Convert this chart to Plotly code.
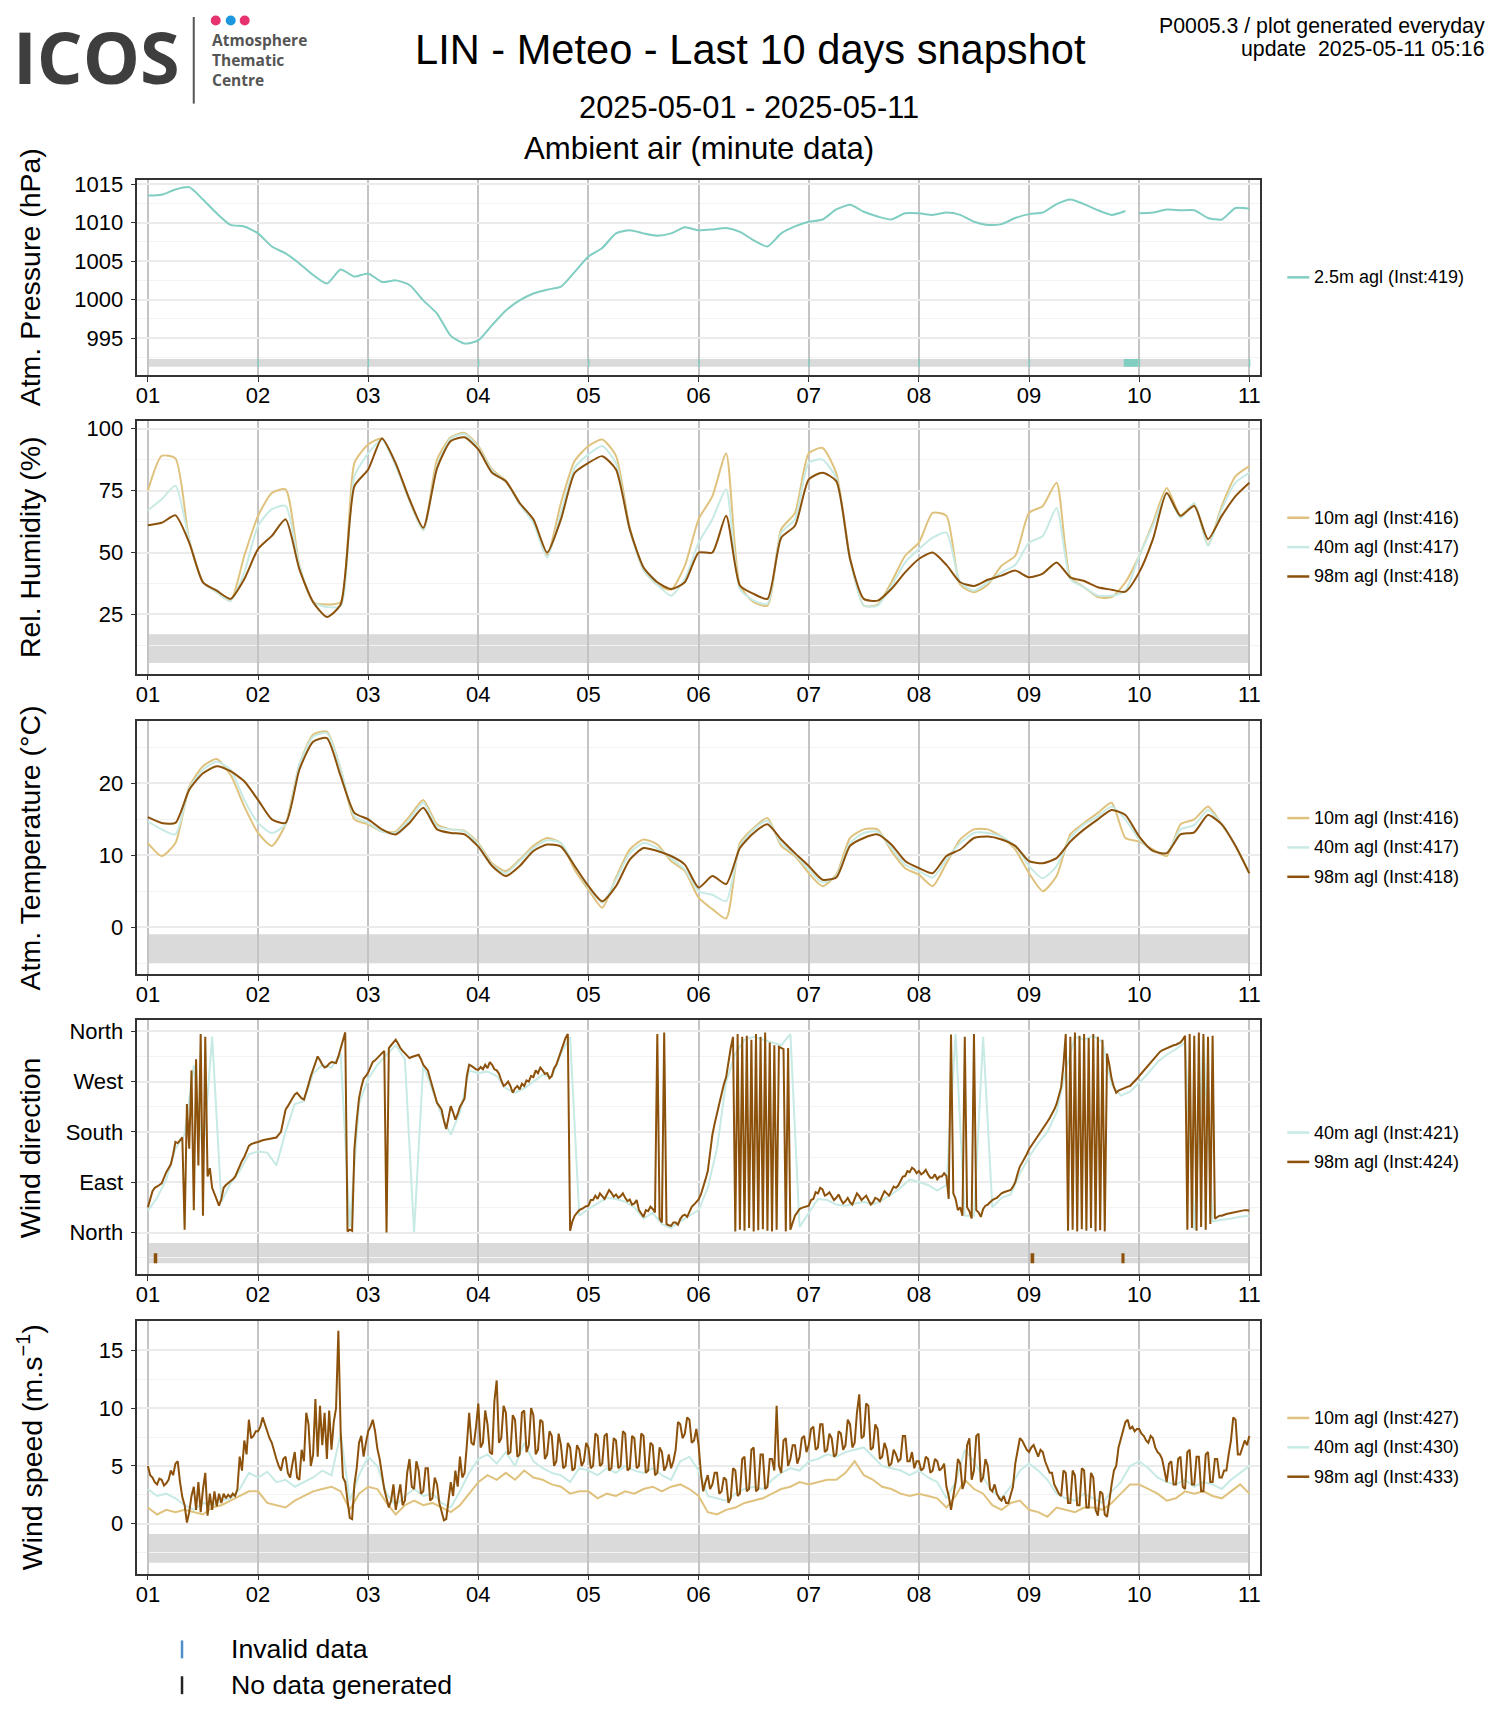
import pandas as pd
import plotly.graph_objects as go

W, H = 1500, 1725
FONT = "Liberation Sans, Arial, Helvetica, sans-serif"
START = pd.Timestamp("2025-05-01 00:00")

# ---------------- data ----------------
day_labels = ["01", "02", "03", "04", "05", "06", "07", "08", "09", "10", "11"]

# Atmospheric pressure 2.5m, every 3 h (hPa)
pressure_25m = [
    1013.5, 1013.6, 1014.3, 1014.6, 1013.0, 1011.2, 1009.7, 1009.5,
    1008.6, 1006.9, 1006.0, 1004.7, 1003.2, 1002.1, 1003.9, 1003.0,
    1003.4, 1002.3, 1002.5, 1001.9, 999.9, 998.2, 995.3, 994.3,
    994.7, 996.7, 998.6, 999.9, 1000.8, 1001.3, 1001.7, 1003.6,
    1005.6, 1006.7, 1008.6, 1009.0, 1008.6, 1008.3, 1008.6, 1009.4,
    1009.0, 1009.1, 1009.3, 1008.8, 1007.7, 1006.9, 1008.6, 1009.5,
    1010.1, 1010.4, 1011.7, 1012.3, 1011.4, 1010.8, 1010.4, 1011.2,
    1011.2, 1011.0, 1011.3, 1011.0, 1010.1, 1009.7, 1009.8, 1010.6,
    1011.1, 1011.3, 1012.4, 1013.0, 1012.4, 1011.6, 1011.0, 1011.5,
    1011.2, 1011.3, 1011.7, 1011.6, 1011.6, 1010.6, 1010.4, 1011.9,
    1011.8,
]
pressure_gap_day = 8.93

# Relative humidity, every 3 h (%)
rh_10m = [
    75, 89, 88, 55, 38, 34, 30.5, 48.7,
    64.8, 74, 75.5, 45, 30, 29, 30, 86.2,
    93.6, 96, 85.5, 71, 59, 87.5, 96.5, 98.3,
    93, 83.5, 79, 70, 62.5, 49, 70, 87,
    93, 95.6, 89, 60, 43, 37, 35, 44.7,
    63.4, 72.8, 90, 36.7, 30, 28.6, 59.4, 66,
    90, 92.2, 82, 48, 28.6, 29, 38, 48.7,
    54, 66, 64.8, 37, 34, 37, 44.7, 48.7,
    66, 68.8, 78.2, 40, 36, 32, 32, 38,
    48.7, 62, 76, 65, 69.5, 53, 68.8, 80.8,
    84.9,
]
rh_40m = [
    67, 71.5, 77, 55, 38, 34, 30.5, 42,
    60.8, 67.5, 68.8, 44.7, 30, 28, 28.5, 80.8,
    90, 95.5, 85, 71, 59, 85, 96, 97.8,
    92.2, 83, 78.5, 69.5, 62, 48, 66, 84.2,
    89.6, 93, 86, 59, 43, 37, 32.6, 39.3,
    54, 63.4, 75.5, 35.3, 30.6, 29.3, 58, 63.4,
    86.2, 87.5, 80, 47, 28.6, 28.6, 36.5, 46,
    51.4, 56, 58, 38, 34.6, 38, 42, 45,
    54, 56.7, 68, 39.3, 36, 32.6, 32.6, 34.6,
    48.7, 60.8, 74, 64, 70, 52.7, 67.5, 78.2,
    82.2,
]
rh_98m = [
    61, 62, 65, 54, 38, 34.6, 31.3, 39.3,
    51.4, 56.7, 63.4, 43.3, 30, 24, 29, 76.8,
    83.5, 96, 86, 71.5, 60, 84, 95, 96.5,
    91.6, 82.2, 78.8, 70, 63.4, 50, 63.4, 82.2,
    86.2, 88.9, 83.5, 59.4, 44, 38, 35.3, 38,
    50, 50, 64.8, 36.7, 33.3, 31.3, 56, 60.8,
    79.5, 82.2, 78.8, 47.4, 31.3, 30.6, 35.3, 42,
    47.4, 50, 45, 38, 36.5, 39, 40.7, 42.7,
    40, 41.5, 46, 40, 38.5, 36, 35, 34.2,
    42, 55.4, 74, 64.8, 68.8, 55.4, 64.8, 72.8,
    78.2,
]

# Air temperature, every 3 h (degC)
temp_10m = [
    11.7, 9.9, 11.7, 19.5, 22.4, 23.4, 21.2, 16.8,
    13.1, 11.3, 14.3, 22.6, 26.8, 27.2, 22.0, 15.0,
    14.3, 13.3, 13.3, 15.4, 17.7, 14.3, 13.6, 13.4,
    11.7, 8.9, 7.8, 9.4, 11.3, 12.4, 11.7, 8.0,
    5.2, 2.7, 6.9, 10.8, 12.2, 11.5, 9.2, 7.8,
    4.1, 2.5, 1.2, 11.7, 13.8, 15.2, 11.3, 9.9,
    7.5, 5.7, 7.3, 12.4, 13.6, 13.6, 10.6, 8.2,
    7.3, 5.7, 8.9, 12.2, 13.6, 13.6, 12.6, 10.8,
    7.5, 5.0, 7.1, 12.9, 14.5, 15.9, 17.3, 12.4,
    11.9, 10.8, 9.9, 14.3, 15.0, 16.8, 14.3, 11.3,
    7.5,
]
temp_40m = [
    14.7, 13.6, 12.9, 19.3, 21.9, 23.0, 21.9, 17.7,
    14.5, 13.1, 14.3, 22.6, 26.5, 27.0, 22.0, 15.4,
    14.5, 13.3, 13.1, 15.0, 17.3, 14.0, 13.6, 13.3,
    11.5, 8.7, 7.5, 9.2, 11.0, 12.1, 11.7, 8.5,
    5.5, 3.4, 6.6, 10.3, 11.7, 11.0, 9.6, 8.0,
    5.0, 4.5, 3.6, 11.3, 13.6, 14.8, 11.7, 10.1,
    8.0, 6.2, 7.1, 11.7, 13.1, 13.3, 11.0, 8.7,
    7.8, 6.9, 9.4, 11.7, 13.1, 13.1, 12.6, 11.3,
    8.5, 6.8, 8.5, 12.4, 14.3, 15.4, 16.8, 15.0,
    12.2, 10.6, 10.3, 13.6, 14.2, 16.3, 14.3, 11.3,
    7.5,
]
temp_98m = [
    15.3, 14.5, 14.5, 19.1, 21.4, 22.4, 21.7, 20.3,
    17.7, 15.0, 14.5, 21.9, 25.8, 26.3, 21.0, 15.9,
    15.0, 13.6, 12.9, 14.5, 16.6, 13.6, 13.1, 12.9,
    11.2, 8.5, 7.1, 8.5, 10.6, 11.5, 11.2, 8.5,
    5.7, 3.6, 5.7, 9.4, 11.0, 10.6, 9.9, 8.7,
    5.5, 7.1, 6.0, 11.0, 13.1, 14.3, 12.2, 10.3,
    8.5, 6.6, 6.9, 11.3, 12.4, 12.9, 11.5, 9.2,
    8.2, 7.5, 9.9, 10.8, 12.4, 12.6, 12.2, 11.3,
    9.2, 8.9, 9.6, 11.9, 13.6, 15.0, 16.3, 15.6,
    12.6, 10.6, 10.3, 12.9, 13.2, 15.6, 14.3, 11.3,
    7.5,
]

# Wind direction (deg): 40m every 2 h, 98m every 30 min
wdir_40m = [
    39, 62, 95, 150, 175, 300, 140, 350, 55, 88, 110, 140,
    145, 143, 120, 180, 230, 235, 285, 300, 295, 320, 10, 230,
    275, 300, 318, 335, 310, 0, 300, 255, 210, 175, 215, 290,
    285, 288, 280, 258, 250, 258, 270, 282, 278, 320, 350, 30,
    42, 52, 62, 60, 55, 45, 25, 35, 15, 8, 20, 30,
    40, 80, 150, 270, 320, 345, 350, 345, 340, 335, 355, 10,
    35, 60, 58, 50, 48, 52, 55, 50, 58, 68, 80, 95,
    90, 85, 75, 85, 355, 30, 30, 350, 45, 62, 68, 105,
    135, 160, 180, 215, 290, 350, 345, 352, 340, 265, 245, 252,
    268, 285, 305, 318, 328, 340, 5, 348, 20, 22, 25, 28,
    30,
]
wdir_98m = [
    45, 62, 74, 80, 82, 85, 88, 100, 108, 115, 122, 140, 162, 160, 165, 170,
    5, 230, 150, 290, 40, 310, 120, 355, 30, 350, 100, 115, 80, 70, 60, 48,
    60, 80, 85, 88, 92, 95, 100, 110, 120, 128, 135, 145, 155, 158, 160, 161,
    162, 164, 165, 166, 167, 168, 168, 170, 170, 175, 180, 200, 220, 226, 232, 240,
    247, 250, 245, 240, 238, 250, 265, 280, 292, 305, 315, 308, 300, 295, 297, 302,
    305, 304, 303, 315, 330, 345, 358, 2, 5, 3, 150, 200, 240, 260, 275, 280,
    286, 296, 305, 308, 312, 316, 320, 325, 0, 330, 335, 340, 345, 338, 330, 325,
    320, 315, 312, 314, 315, 316, 318, 310, 300, 295, 290, 275, 260, 245, 232, 226,
    220, 200, 185, 205, 226, 215, 202, 212, 225, 232, 240, 280, 300, 298, 295, 292,
    291, 296, 292, 300, 294, 305, 300, 292, 290, 284, 272, 262, 265, 270, 262, 250,
    258, 262, 256, 266, 262, 272, 270, 280, 278, 290, 285, 295, 290, 284, 285, 276,
    280, 294, 300, 312, 325, 338, 348, 355, 3, 20, 30, 35, 40, 42, 45, 47,
    48, 58, 58, 66, 60, 70, 65, 60, 68, 76, 71, 64, 68, 62, 65, 70,
    62, 56, 59, 50, 52, 58, 40, 34, 28, 40, 38, 46, 42, 36, 355, 25,
    18, 358, 15, 13, 12, 18, 18, 14, 24, 30, 32, 28, 36, 46, 50, 55,
    59, 68, 80, 95, 110, 140, 175, 195, 214, 232, 250, 265, 278, 305, 330, 350,
    2, 355, 5, 350, 3, 352, 8, 345, 2, 355, 4, 350, 6, 358, 3, 340,
    2, 335, 5, 332, 330, 328, 2, 330, 5, 20, 30, 36, 42, 44, 45, 46,
    48, 58, 60, 72, 70, 80, 77, 66, 68, 72, 65, 58, 62, 68, 59, 52,
    56, 62, 54, 50, 60, 70, 65, 58, 62, 66, 58, 50, 54, 62, 60, 56,
    65, 74, 70, 66, 74, 82, 80, 84, 92, 100, 101, 110, 108, 116, 113, 106,
    110, 104, 107, 112, 104, 98, 98, 104, 95, 100, 100, 106, 101, 60, 354, 70,
    60, 40, 45, 30, 350, 45, 38, 25, 355, 40, 36, 28, 42, 48, 50, 55,
    58, 60, 62, 66, 70, 72, 73, 75, 76, 82, 90, 105, 118, 125, 132, 140,
    149, 155, 160, 166, 172, 178, 185, 192, 198, 205, 212, 220, 230, 245, 260, 300,
    355, 3, 350, 5, 358, 2, 352, 6, 355, 3, 348, 8, 355, 2, 350, 4,
    345, 2, 320, 300, 275, 260, 250, 254, 256, 258, 260, 261, 262, 266, 270, 275,
    280, 285, 290, 294, 298, 303, 308, 314, 320, 323, 326, 328, 330, 332, 333, 335,
    336, 338, 340, 345, 352, 5, 355, 8, 352, 3, 358, 10, 355, 5, 350, 15,
    352, 25, 28, 30, 30, 32, 33, 34, 35, 35, 36, 37, 38, 39, 40, 40,
    39,
]

# Wind speed (m/s): 10m & 40m every 2 h, 98m every 30 min
wspd_10m = [
    1.4, 0.8, 1.2, 1.0, 1.2, 1.0, 0.8, 1.4, 1.6, 2.0, 2.4, 2.8,
    2.8, 1.8, 1.6, 1.4, 2.0, 2.4, 2.8, 3.0, 3.2, 2.8, 1.2, 2.6,
    3.2, 3.0, 1.8, 0.8, 1.6, 2.0, 1.6, 1.8, 1.4, 1.0, 1.6, 2.6,
    3.6, 4.2, 3.8, 4.4, 3.8, 4.6, 4.0, 3.8, 3.4, 3.2, 2.6, 2.8,
    2.8, 2.2, 2.6, 2.4, 2.8, 2.6, 3.0, 3.2, 2.8, 3.2, 3.4, 3.0,
    2.4, 1.0, 0.8, 1.2, 1.4, 1.8, 2.0, 2.2, 2.6, 3.0, 3.2, 3.6,
    3.4, 3.6, 3.8, 3.8, 4.4, 5.4, 4.2, 3.8, 3.2, 3.0, 2.6, 2.4,
    2.6, 2.4, 2.2, 1.4, 2.4, 3.8, 3.0, 2.6, 1.6, 1.2, 1.8, 2.0,
    1.2, 1.0, 0.6, 1.4, 1.2, 1.0, 1.4, 1.4, 1.2, 1.8, 2.6, 3.4,
    3.4, 3.0, 2.6, 2.0, 2.2, 2.8, 2.6, 2.8, 2.4, 2.2, 2.8, 3.4,
    2.6,
]
wspd_40m = [
    3.0, 2.4, 2.6, 2.2, 1.6, 1.2, 1.8, 1.6, 2.0, 2.2, 3.0, 4.4,
    4.0, 4.5, 3.6, 3.8, 3.2, 3.6, 4.0, 4.6, 4.2, 7.8, 2.0, 4.2,
    5.8, 5.0, 2.6, 1.6, 2.4, 3.0, 2.4, 2.6, 1.8, 1.4, 2.8, 4.4,
    5.6, 6.0, 5.2, 6.2, 5.0, 7.0, 5.4, 4.8, 4.4, 4.2, 3.6, 4.8,
    4.6, 4.2, 4.8, 4.4, 5.0, 4.6, 4.4, 4.8, 4.2, 3.8, 5.4, 5.8,
    4.6, 2.4, 2.2, 2.0, 2.6, 3.0, 3.2, 3.0, 3.8, 4.4, 4.8, 4.6,
    5.4, 5.6, 6.0, 5.8, 6.2, 6.4, 6.6, 5.8, 5.0, 4.8, 4.6, 4.2,
    4.6, 4.0, 3.6, 2.2, 3.6, 6.4, 5.4, 4.0, 2.8, 2.2, 3.2, 4.6,
    5.2, 4.6, 3.8, 2.6, 2.2, 2.0, 2.6, 2.2, 1.8, 2.8, 3.6, 5.0,
    5.4, 4.8, 4.0, 3.6, 3.4, 3.8, 3.2, 3.6, 3.4, 3.0, 3.8, 4.4,
    5.0,
]
wspd_98m = [
    5.0, 4.2, 4.0, 3.6, 3.4, 3.9, 3.8, 3.3, 3.5, 3.8, 4.6, 4.2, 5.2, 5.4, 3.6, 2.3,
    1.6, 0.1, 1.0, 2.4, 3.2, 1.2, 3.6, 1.0, 3.0, 4.4, 0.7, 2.6, 1.2, 2.8, 1.5, 2.6,
    1.8, 2.6, 2.2, 2.5, 2.3, 2.6, 2.4, 3.0, 5.8, 4.6, 7.2, 6.0, 9.0, 7.4, 7.6, 8.0,
    8.0, 8.4, 9.2, 8.6, 7.8, 7.4, 7.0, 6.2, 5.6, 5.0, 4.6, 5.6, 5.8, 4.4, 4.0, 5.2,
    6.2, 4.0, 3.8, 6.4, 5.4, 9.6, 8.6, 5.0, 6.0, 10.8, 5.8, 10.2, 6.8, 9.6, 5.6, 9.8,
    6.4, 8.8, 10.0, 16.7, 8.0, 4.0, 3.6, 2.0, 0.5, 0.4, 3.4, 4.8, 7.0, 7.6, 5.8, 7.0,
    8.0, 8.4, 9.0, 8.0, 6.5, 5.6, 4.2, 3.0, 2.2, 1.4, 2.0, 3.4, 1.2, 2.4, 3.4, 1.6,
    2.0, 4.4, 5.6, 3.2, 3.0, 5.4, 4.6, 2.6, 2.8, 4.8, 4.8, 2.0, 2.2, 4.0, 3.4, 1.8,
    1.0, 0.3, 0.4, 2.2, 3.6, 2.4, 4.6, 3.2, 5.8, 4.0, 4.4, 6.8, 9.6, 7.0, 6.8, 8.4,
    10.4, 6.6, 7.0, 9.8, 8.6, 6.2, 6.0, 10.6, 12.4, 7.0, 7.4, 10.2, 9.6, 6.0, 6.2, 9.4,
    9.0, 5.8, 6.0, 9.6, 9.8, 6.2, 6.8, 10.0, 9.4, 6.0, 6.4, 9.0, 8.8, 5.6, 6.0, 8.0,
    7.6, 5.0, 5.4, 7.8, 6.8, 4.8, 5.0, 7.0, 6.6, 4.6, 4.8, 6.8, 6.4, 5.0, 5.4, 7.0,
    6.6, 4.8, 5.0, 7.8, 7.6, 5.0, 5.2, 7.6, 7.8, 4.6, 4.8, 7.4, 7.2, 4.8, 5.0, 8.0,
    7.8, 4.6, 4.8, 7.6, 7.4, 4.8, 5.0, 7.8, 7.6, 4.4, 4.6, 7.0, 6.8, 4.2, 4.4, 6.6,
    6.2, 4.6, 5.0, 6.0, 4.8, 5.4, 6.4, 8.8, 8.6, 7.4, 7.8, 9.2, 9.0, 7.0, 7.2, 8.2,
    6.8, 4.4, 2.8, 3.6, 4.2, 3.0, 3.4, 4.4, 4.4, 2.6, 2.8, 4.0, 3.8, 1.8, 2.2, 4.8,
    4.6, 2.4, 2.6, 5.6, 5.8, 2.8, 3.0, 6.4, 6.6, 2.8, 3.0, 6.0, 6.0, 3.0, 3.2, 5.6,
    5.6, 4.6, 10.2, 5.0, 4.4, 7.2, 7.4, 5.0, 5.6, 6.8, 6.8, 5.2, 5.8, 7.4, 7.6, 6.2,
    6.8, 8.2, 8.4, 6.4, 6.6, 8.6, 8.6, 6.2, 6.4, 7.8, 7.4, 5.8, 6.0, 8.0, 7.8, 6.4,
    6.8, 9.0, 8.6, 6.6, 7.0, 9.6, 11.2, 7.4, 7.6, 10.4, 10.2, 6.4, 6.6, 8.6, 8.2, 5.6,
    5.8, 7.0, 6.4, 5.0, 5.2, 6.4, 6.0, 5.4, 5.6, 7.6, 7.6, 5.4, 5.4, 6.2, 4.8, 5.4,
    5.4, 4.6, 4.8, 5.8, 5.6, 4.4, 4.6, 5.6, 5.4, 4.6, 4.8, 5.2, 3.2, 2.4, 1.2, 2.4,
    3.6, 5.6, 5.2, 3.0, 3.6, 6.8, 7.4, 3.8, 4.6, 7.6, 7.8, 3.6, 4.0, 5.6, 5.0, 3.0,
    2.8, 3.4, 2.6, 2.2, 2.0, 2.4, 1.8, 1.8, 2.4, 3.2, 5.2, 6.4, 7.4, 7.2, 6.8, 6.4,
    6.2, 6.6, 6.8, 6.2, 5.8, 6.4, 6.2, 5.4, 4.8, 4.4, 4.4, 3.4, 3.0, 2.6, 2.4, 4.6,
    4.4, 1.8, 1.8, 4.6, 4.2, 1.6, 1.6, 4.8, 4.6, 1.4, 1.4, 4.4, 4.0, 1.2, 0.7, 2.8,
    2.6, 0.8, 0.6, 2.2, 3.4, 4.6, 5.0, 6.6, 7.4, 8.2, 8.8, 9.0, 8.2, 8.4, 8.0, 8.2,
    8.2, 7.8, 7.6, 7.2, 7.0, 7.6, 7.4, 6.6, 6.2, 6.0, 5.6, 4.6, 3.6, 5.2, 5.4, 3.4,
    3.4, 5.6, 5.8, 3.2, 3.0, 6.2, 6.4, 3.4, 3.4, 5.8, 5.8, 2.8, 2.8, 6.0, 6.2, 3.6,
    3.6, 5.6, 5.6, 4.0, 4.0, 4.6, 4.6, 6.0, 7.2, 9.2, 9.0, 6.0, 6.0, 6.6, 7.2, 6.8,
    7.6,
]

# data-availability marks (days after 2025-05-01 00:00)
pressure_mark_days = [1, 2, 3, 4, 5, 6, 7, 8, 9, 10]
pressure_missing_block = (8.86, 8.99)
wdir98_mark_days = [(0.053, 0.085), (8.014, 8.047), (8.839, 8.867)]

# ---------------- styling ----------------
C_P = "#80CDC1"
C10 = "#DFC27D"
C40 = "#C7EAE5"
C98 = "#8C510A"

X_L, X_R = 127.5, 1252.0
PANELS = [(164.5, 360.6), (406.6, 660.6), (707.8, 962.8), (1009, 1264), (1311, 1565)]


def px(x):
    return x / W


def py(y):
    return 1 - y / H


def times(n, hours):
    return [START + pd.Timedelta(hours=hours * k) for k in range(n)]


def day(d):
    return START + pd.Timedelta(days=d)


fig = go.Figure()

p_t = times(len(pressure_25m), 3)
p_y = list(pressure_25m)
gap_t = day(pressure_gap_day)
idx = next(k for k, t in enumerate(p_t) if t > gap_t)
p_t.insert(idx, gap_t)
p_y.insert(idx, None)

smooth = dict(shape="spline", smoothing=0.6)
series = [
    (1, p_t, p_y, C_P, smooth),
    (2, times(len(rh_10m), 3), rh_10m, C10, smooth),
    (2, times(len(rh_40m), 3), rh_40m, C40, smooth),
    (2, times(len(rh_98m), 3), rh_98m, C98, smooth),
    (3, times(len(temp_10m), 3), temp_10m, C10, smooth),
    (3, times(len(temp_40m), 3), temp_40m, C40, smooth),
    (3, times(len(temp_98m), 3), temp_98m, C98, smooth),
    (4, times(len(wdir_40m), 2), wdir_40m, C40, {}),
    (4, times(len(wdir_98m), 0.5), wdir_98m, C98, {}),
    (5, times(len(wspd_10m), 2), wspd_10m, C10, {}),
    (5, times(len(wspd_40m), 2), wspd_40m, C40, {}),
    (5, times(len(wspd_98m), 0.5), wspd_98m, C98, {}),
]
for i, t, y, c, extra in series:
    sfx = "" if i == 1 else str(i)
    fig.add_trace(go.Scatter(x=t, y=y, mode="lines", line=dict(color=c, width=2, **extra),
                             xaxis="x" + sfx, yaxis="y" + sfx, connectgaps=False,
                             showlegend=False, hoverinfo="skip"))

y_specs = [
    dict(range=[990.23, 1015.56], tickvals=[995, 1000, 1005, 1010, 1015],
         ticktext=None, minor=[992.5, 997.5, 1002.5, 1007.5, 1012.5], band=(991.3, 992.3),
         title="Atm. Pressure (hPa)"),
    dict(range=[1.17, 103.2], tickvals=[25, 50, 75, 100], ticktext=None,
         minor=[12.5, 37.5, 62.5, 87.5], band=(5.4, 17.0), title="Rel. Humidity (%)"),
    dict(range=[-6.57, 28.75], tickvals=[0, 10, 20], ticktext=None,
         minor=[-5, 5, 15, 25], band=(-5.0, -1.0), title="Atm. Temperature (°C)"),
    dict(range=[-74.5, 379.6], tickvals=[0, 90, 180, 270, 360],
         ticktext=["North", "East", "South", "West", "North"],
         minor=[-45, 45, 135, 225, 315], band=(-55, -19), title="Wind direction"),
    dict(range=[-4.33, 17.55], tickvals=[0, 5, 10, 15], ticktext=None,
         minor=[-2.5, 2.5, 7.5, 12.5], band=(-3.38, -0.89),
         title="Wind speed (m.s<sup>−1</sup>)"),
]

tick_days = [day(k) for k in range(11)]
shapes, annotations = [], []
layout = {}
for i, ((top, bot), spec) in enumerate(zip(PANELS, y_specs), start=1):
    sfx = "" if i == 1 else str(i)
    layout["xaxis" + sfx] = dict(
        domain=[px(X_L), px(X_R)], anchor="y" + sfx, type="date",
        range=[day(-0.096), day(10.1)], tickvals=tick_days, ticktext=day_labels,
        showgrid=True, gridcolor="#C4C4C4", gridwidth=1.5, zeroline=False,
        showline=True, mirror=True, linecolor="#333333", linewidth=1.5,
        ticks="outside", ticklen=5, tickwidth=1.3, tickcolor="#333333",
        ticklabelstandoff=-5,
        tickfont=dict(family=FONT, size=22, color="black"), fixedrange=True)
    ya = dict(
        domain=[py(bot), py(top)], anchor="x" + sfx, range=spec["range"],
        tickvals=spec["tickvals"], showgrid=True, gridcolor="#EBEBEB", gridwidth=2,
        zeroline=False, showline=True, mirror=True, linecolor="#333333", linewidth=1.5,
        ticks="outside", ticklen=5, tickwidth=1.3, tickcolor="#333333",
        ticklabelstandoff=3,
        tickfont=dict(family=FONT, size=22, color="black"), fixedrange=True,
        minor=dict(tickvals=spec["minor"], showgrid=True, gridcolor="#F3F3F3",
                   gridwidth=1, ticks=""))
    if spec["ticktext"]:
        ya["ticktext"] = spec["ticktext"]
    layout["yaxis" + sfx] = ya

    b0, b1 = spec["band"]
    shapes.append(dict(type="rect", xref="x" + sfx, yref="y" + sfx, layer="below",
                       x0=day(0), x1=day(10), y0=b0, y1=b1,
                       fillcolor="#DADADA", line=dict(width=0)))
    annotations.append(dict(text=spec["title"], xref="paper", yref="paper",
                            x=px(20), y=py((top + bot) / 2), textangle=-90,
                            showarrow=False, xanchor="center", yanchor="middle",
                            font=dict(family=FONT, size=28.5, color="black")))

# availability marks
for d in pressure_mark_days:
    shapes.append(dict(type="rect", xref="x", yref="y", layer="above",
                       x0=day(d - 0.004), x1=day(d + 0.009), y0=991.3, y1=992.3,
                       fillcolor=C_P, line=dict(width=0)))
shapes.append(dict(type="rect", xref="x", yref="y", layer="above",
                   x0=day(pressure_missing_block[0]), x1=day(pressure_missing_block[1]),
                   y0=991.3, y1=992.3, fillcolor=C_P, line=dict(width=0)))
for d0, d1 in wdir98_mark_days:
    shapes.append(dict(type="rect", xref="x4", yref="y4", layer="above",
                       x0=day(d0), x1=day(d1), y0=-55, y1=-37,
                       fillcolor=C98, line=dict(width=0)))

# right-hand legends
legends = [
    [("2.5m agl (Inst:419)", C_P)],
    [("10m agl (Inst:416)", C10), ("40m agl (Inst:417)", C40), ("98m agl (Inst:418)", C98)],
    [("10m agl (Inst:416)", C10), ("40m agl (Inst:417)", C40), ("98m agl (Inst:418)", C98)],
    [("40m agl (Inst:421)", C40), ("98m agl (Inst:424)", C98)],
    [("10m agl (Inst:427)", C10), ("40m agl (Inst:430)", C40), ("98m agl (Inst:433)", C98)],
]
for items, (top, bot) in zip(legends, PANELS):
    yc = (top + bot) / 2
    n = len(items)
    for j, (label, col) in enumerate(items):
        yy = yc + (j - (n - 1) / 2) * 29.5
        shapes.append(dict(type="line", xref="paper", yref="paper",
                           x0=px(1279), x1=px(1301), y0=py(yy), y1=py(yy),
                           line=dict(color=col, width=2.5)))
        annotations.append(dict(text=label, xref="paper", yref="paper", x=px(1304), y=py(yy),
                                xanchor="left", yanchor="middle", showarrow=False,
                                font=dict(family=FONT, size=18, color="black")))


def text(t, x, y, size, anchor="center", color="black", family=FONT):
    annotations.append(dict(text=t, xref="paper", yref="paper", x=px(x), y=py(y),
                            xanchor=anchor, yanchor="middle", showarrow=False,
                            font=dict(family=family, size=size, color=color)))


text("LIN - Meteo - Last 10 days snapshot", 741, 33.5, 41.6)
text("2025-05-01 - 2025-05-11", 740, 91.5, 30.8)
text("Ambient air (minute data)", (X_L + X_R) / 2, 133.5, 31.2)
text("P0005.3 / plot generated everyday", 1478.5, 10.5, 21.3, anchor="right")
text("update&nbsp; 2025-05-11 05:16", 1478.5, 33, 21.3, anchor="right")

# bottom legend
shapes.append(dict(type="rect", xref="paper", yref="paper", x0=px(171), x1=px(173.5),
                   y0=py(1650), y1=py(1632), fillcolor="#4F8FCC", line=dict(width=0)))
shapes.append(dict(type="rect", xref="paper", yref="paper", x0=px(171), x1=px(173.5),
                   y0=py(1686), y1=py(1668), fillcolor="#222222", line=dict(width=0)))
text("Invalid data", 219, 1641, 26.7, anchor="left")
text("No data generated", 219, 1677, 26.7, anchor="left")

# ICOS logo
LOGO = "Open Sans, Liberation Sans, sans-serif"
text("<b>ICOS</b>", 1, 40, 72, anchor="left", color="#3E3E3E", family=LOGO)
shapes.append(dict(type="line", xref="paper", yref="paper", x0=px(184), x1=px(184),
                   y0=py(1), y1=py(88), line=dict(color="#555555", width=2)))
for cx, col in [(206, "#E6336F"), (221, "#1C96DE"), (235, "#E6336F")]:
    shapes.append(dict(type="circle", xref="paper", yref="paper",
                       x0=px(cx - 5), x1=px(cx + 5), y0=py(9.5), y1=py(-0.5),
                       fillcolor=col, line=dict(width=0)))
annotations.append(dict(text="<b>Atmosphere</b><br><b>Thematic</b><br><b>Centre</b>",
                        xref="paper", yref="paper", x=px(200), y=py(44), align="left",
                        xanchor="left", yanchor="middle", showarrow=False,
                        font=dict(family=LOGO, size=15.5, color="#555555")))

fig.update_layout(
    width=W, height=H, margin=dict(l=0, r=0, t=0, b=0),
    paper_bgcolor="white", plot_bgcolor="white", showlegend=False,
    shapes=shapes, annotations=annotations, **layout)

fig.write_html("out.html")
